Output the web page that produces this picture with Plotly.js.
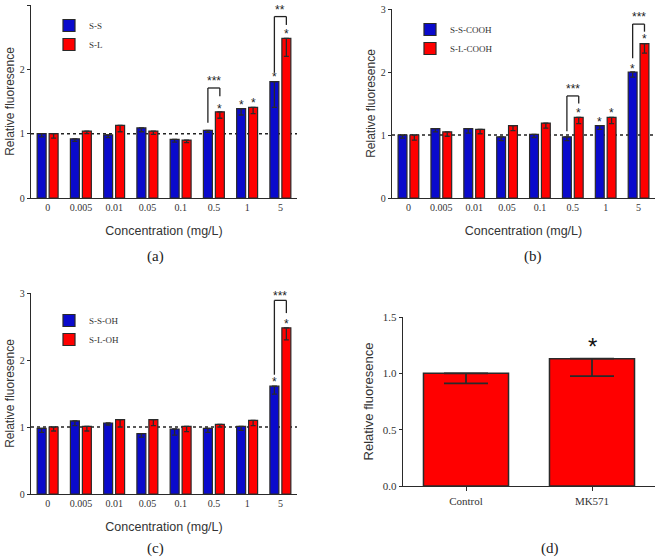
<!DOCTYPE html>
<html>
<head>
<meta charset="utf-8">
<script src="https://cdn.plot.ly/plotly-3.0.1.min.js"></script>
<style>html,body{margin:0;padding:0;background:#fff;}#chart{width:659px;height:558px;}</style>
</head>
<body>
<div id="chart"></div>
<script>
// ---- data ----
const concentrations = ['0', '0.005', '0.01', '0.05', '0.1', '0.5', '1', '5'];

// panel (a)
const ssNames = ['S-S', 'S-L'];
const ssValues = [1.00, 0.92, 0.98, 1.09, 0.91, 1.05, 1.39, 1.81];
const ssErrors = [0.05, 0.04, 0.04, 0.06, 0.04, 0.03, 0.10, 0.40];
const slValues = [1.00, 1.04, 1.13, 1.04, 0.90, 1.34, 1.41, 2.48];
const slErrors = [0.07, 0.04, 0.10, 0.05, 0.04, 0.10, 0.10, 0.28];

// panel (b)
const cooNames = ['S-S-COOH', 'S-L-COOH'];
const ssCoohValues = [1.00, 1.10, 1.10, 0.97, 1.01, 0.97, 1.15, 2.00];
const ssCoohErrors = [0.05, 0.05, 0.07, 0.06, 0.05, 0.06, 0.06, 0.08];
const slCoohValues = [1.00, 1.05, 1.09, 1.15, 1.19, 1.28, 1.28, 2.45];
const slCoohErrors = [0.08, 0.07, 0.07, 0.08, 0.08, 0.10, 0.10, 0.15];

// panel (c)
const ohNames = ['S-S-OH', 'S-L-OH'];
const ssOhValues = [0.98, 1.09, 1.06, 0.90, 0.97, 0.98, 1.01, 1.61];
const ssOhErrors = [0.06, 0.07, 0.03, 0.05, 0.09, 0.06, 0.06, 0.12];
const slOhValues = [1.00, 1.01, 1.11, 1.11, 1.01, 1.04, 1.10, 2.48];
const slOhErrors = [0.06, 0.07, 0.11, 0.09, 0.08, 0.04, 0.08, 0.18];

// panel (d)
const mkCategories = ['Control', 'MK571'];
const mkValues = [1.00, 1.13];
const mkErrors = [0.09, 0.155];

// significance marks: [panel, category index, series (0 blue / 1 red), y of star]
const singleStars = [
  ['a', 5, 1, 1.43], ['a', 6, 0, 1.50], ['a', 6, 1, 1.52], ['a', 7, 0, 1.92], ['a', 7, 1, 2.59],
  ['b', 5, 1, 1.39], ['b', 6, 0, 1.26], ['b', 6, 1, 1.39], ['b', 7, 0, 2.10], ['b', 7, 1, 2.57],
  ['c', 7, 0, 1.71], ['c', 7, 1, 2.58]
];
// brackets: [panel, category index, left leg bottom, top, right leg bottom, label, label y]
const brackets = [
  ['a', 5, 1.17, 1.71, 1.58, '***', 1.86],
  ['a', 7, 1.95, 2.82, 2.69, '**', 2.97],
  ['b', 5, 1.06, 1.62, 1.50, '***', 1.77],
  ['b', 7, 2.22, 2.76, 2.64, '***', 2.92],
  ['c', 7, 1.78, 2.89, 2.70, '***', 3.00]
];

// ---- styling ----
const BLUE = '#0a0acc';
const RED = '#ff0000';
const DARK = '#2a2a2a';
const idx = concentrations.map((_, i) => i);
const OFF = 0.18;

const axes = {a: ['x', 'y'], b: ['x2', 'y2'], c: ['x3', 'y3']};

function barTrace(name, vals, errs, color, ax, legend) {
  return {
    type: 'bar', name: name, x: idx, y: vals,
    xaxis: ax[0], yaxis: ax[1], legend: legend,
    marker: {color: color, line: {color: DARK, width: 1.2}},
    error_y: {type: 'data', symmetric: false, array: vals.map(() => 0), arrayminus: errs,
              color: DARK, thickness: 1.3, width: 2.5},
    hoverinfo: 'skip'
  };
}

const traces = [
  barTrace(ssNames[0], ssValues, ssErrors, BLUE, axes.a, 'legend'),
  barTrace(ssNames[1], slValues, slErrors, RED, axes.a, 'legend'),
  barTrace(cooNames[0], ssCoohValues, ssCoohErrors, BLUE, axes.b, 'legend2'),
  barTrace(cooNames[1], slCoohValues, slCoohErrors, RED, axes.b, 'legend2'),
  barTrace(ohNames[0], ssOhValues, ssOhErrors, BLUE, axes.c, 'legend3'),
  barTrace(ohNames[1], slOhValues, slOhErrors, RED, axes.c, 'legend3'),
  {
    type: 'bar', x: mkCategories, y: mkValues, xaxis: 'x4', yaxis: 'y4',
    width: 0.675, showlegend: false,
    marker: {color: RED, line: {color: DARK, width: 1.5}},
    error_y: {type: 'data', symmetric: false, array: [0, 0], arrayminus: mkErrors,
              color: DARK, thickness: 1.8, width: 22},
    hoverinfo: 'skip'
  }
];

const tickFont = {family: 'Liberation Serif, serif', size: 10, color: '#333'};
const titleFont = {family: 'Liberation Sans, Arial, sans-serif', size: 12, color: '#333'};

function xAxis(domain, anchor) {
  return {
    domain: domain, anchor: anchor, range: [-0.5, 7.5],
    tickvals: idx, ticktext: concentrations, ticks: '',
    showline: true, linecolor: DARK, linewidth: 1.3, showgrid: false, zeroline: false,
    tickfont: tickFont,
    title: {text: 'Concentration (mg/L)', font: {family: 'Liberation Sans, Arial, sans-serif', size: 12.5, color: '#333'}, standoff: 14}
  };
}
function yAxis(domain, anchor) {
  return {
    domain: domain, anchor: anchor, range: [0, 3], tickvals: [0, 1, 2, 3],
    ticks: 'outside', ticklen: 3, tickcolor: DARK,
    showline: true, linecolor: DARK, linewidth: 1.3, showgrid: false, zeroline: false,
    tickfont: tickFont,
    title: {text: 'Relative fluoresence', font: titleFont, standoff: 2}
  };
}

const shapes = [];
const annotations = [];

// dotted reference lines at 1
[['x', 'y'], ['x2', 'y2'], ['x3', 'y3']].forEach(([xa, ya]) => {
  shapes.push({type: 'line', xref: xa + ' domain', yref: ya, x0: 0, x1: 1, y0: 1, y1: 1,
    layer: 'below', line: {color: '#222', width: 1.5, dash: 'dot'}});
});

singleStars.forEach(([p, c, s, y]) => {
  const ax = axes[p];
  annotations.push({xref: ax[0], yref: ax[1], x: c + (s === 0 ? -OFF : OFF), y: y,
    text: '*', showarrow: false, yanchor: 'middle', yshift: -3,
    font: {family: 'Liberation Sans, Arial, sans-serif', size: 12, color: '#222'}});
});

brackets.forEach(([p, c, yl, yt, yr, label, ly]) => {
  const ax = axes[p];
  const xl = c - OFF, xr = c + OFF;
  const ln = {color: '#222', width: 1.3};
  shapes.push({type: 'line', xref: ax[0], yref: ax[1], x0: xl, x1: xl, y0: yl, y1: yt, line: ln});
  shapes.push({type: 'line', xref: ax[0], yref: ax[1], x0: xl, x1: xr, y0: yt, y1: yt, line: ln});
  shapes.push({type: 'line', xref: ax[0], yref: ax[1], x0: xr, x1: xr, y0: yt, y1: yr, line: ln});
  annotations.push({xref: ax[0], yref: ax[1], x: c, y: ly, text: label, showarrow: false,
    yanchor: 'middle', yshift: -3,
    font: {family: 'Liberation Sans, Arial, sans-serif', size: 12, color: '#222'}});
});

// big star on MK571
annotations.push({xref: 'x4', yref: 'y4', x: 'MK571', y: 1.29, text: '*', showarrow: false,
  yanchor: 'middle', yshift: -6,
  font: {family: 'Liberation Sans, Arial, sans-serif', size: 24, color: '#111'}});

// panel captions
[['(a)', 155, 256], ['(b)', 533, 256], ['(c)', 155, 548], ['(d)', 550, 548]].forEach(([t, px, py]) => {
  annotations.push({xref: 'paper', yref: 'paper', x: px / 659, y: 1 - py / 558, text: t,
    showarrow: false, xanchor: 'center', yanchor: 'middle',
    font: {family: 'Liberation Serif, serif', size: 15, color: '#222'}});
});

const legendStyle = (x, y) => ({
  x: x / 659, y: 1 - y / 558, xanchor: 'left', yanchor: 'top',
  bgcolor: 'rgba(0,0,0,0)', borderwidth: 0, tracegroupgap: 0,
  font: {family: 'Liberation Serif, serif', size: 9, color: '#333'}
});

const layout = {
  width: 659, height: 558,
  margin: {l: 0, r: 0, t: 0, b: 0},
  paper_bgcolor: '#fff', plot_bgcolor: '#fff',
  barmode: 'group', bargap: 0.28, bargroupgap: 0.25,
  showlegend: true,
  legend: legendStyle(49, 11),
  legend2: legendStyle(410, 15),
  legend3: legendStyle(49, 306),
  xaxis: xAxis([31 / 659, 297 / 659], 'y'),
  yaxis: yAxis([1 - 198 / 558, 1 - 5 / 558], 'x'),
  xaxis2: xAxis([392 / 659, 655 / 659], 'y2'),
  yaxis2: yAxis([1 - 198 / 558, 1 - 9 / 558], 'x2'),
  xaxis3: xAxis([31 / 659, 297 / 659], 'y3'),
  yaxis3: yAxis([1 - 494 / 558, 1 - 293 / 558], 'x3'),
  xaxis4: {
    domain: [403 / 659, 655 / 659], anchor: 'y4', type: 'category',
    ticks: 'outside', ticklen: 4, tickcolor: DARK,
    showline: true, linecolor: DARK, linewidth: 1.3, showgrid: false, zeroline: false,
    tickfont: {family: 'Liberation Serif, serif', size: 11, color: '#333'}
  },
  yaxis4: {
    domain: [1 - 486 / 558, 1 - 317 / 558], anchor: 'x4', range: [0, 1.5], dtick: 0.5, tickformat: '.1f',
    ticks: 'outside', ticklen: 3, tickcolor: DARK,
    showline: true, linecolor: DARK, linewidth: 1.3, showgrid: false, zeroline: false,
    tickfont: {family: 'Liberation Serif, serif', size: 11, color: '#333'},
    title: {text: 'Relative fluoresence', font: {family: 'Liberation Sans, Arial, sans-serif', size: 13, color: '#333'}, standoff: 6}
  },
  shapes: shapes,
  annotations: annotations
};

Plotly.newPlot('chart', traces, layout, {displayModeBar: false, staticPlot: true});
</script>
</body>
</html>
